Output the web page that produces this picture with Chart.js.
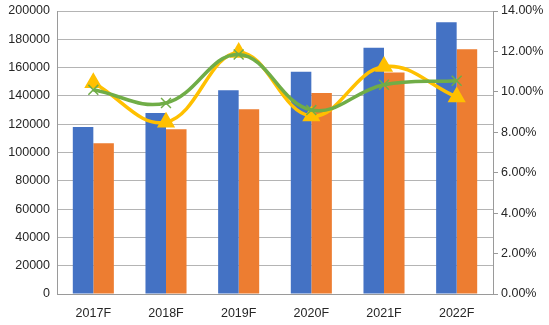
<!DOCTYPE html>
<html>
<head>
<meta charset="utf-8">
<script src="https://cdn.jsdelivr.net/npm/chart.js@4.4.1/dist/chart.umd.min.js"></script>
<style>
  html, body { margin: 0; padding: 0; background: #fff; }
  #wrap { width: 549px; height: 325px; }
</style>
</head>
<body>
<div id="wrap"><canvas id="chart" width="549" height="325"></canvas></div>
<script>
const years = ['2017F', '2018F', '2019F', '2020F', '2021F', '2022F'];
const blueBars = [118000, 128000, 144000, 157000, 174000, 192000];
const orangeBars = [106500, 116500, 130500, 142000, 156500, 173000];
const yellowRate = [10.45, 8.5, 11.95, 8.8, 11.25, 9.75];
const greenRate = [10.1, 9.45, 11.85, 9.1, 10.35, 10.55];
const leftMax = 200000;
const rightMax = 14;

const gridColor = '#b4b4b4';
const axisColor = '#9a9a9a';
const labelFont = { family: 'Liberation Sans', size: 12.5 };

// fixed axis sizes so the plot area lands in the same place every time
function fitSide(width) {
    return (scale) => {
        scale.width = width;
        scale.paddingTop = 0;
        scale.paddingBottom = 0;
    };
}

const ctx = document.getElementById('chart').getContext('2d');
new Chart(ctx, {
    data: {
        labels: years,
        datasets: [
            {
                type: 'line',
                data: yellowRate,
                yAxisID: 'y1',
                borderColor: '#ffc000',
                backgroundColor: '#ffc000',
                borderWidth: 3.5,
                tension: 0.4,
                pointStyle: 'triangle',
                pointRadius: 7,
                order: 1
            },
            {
                type: 'line',
                data: greenRate,
                yAxisID: 'y1',
                borderColor: '#70ad47',
                backgroundColor: '#70ad47',
                borderWidth: 3.5,
                tension: 0.4,
                pointStyle: 'crossRot',
                pointRadius: 7,
                pointBorderWidth: 1.5,
                order: 0
            },
            {
                type: 'bar',
                data: blueBars,
                yAxisID: 'y',
                backgroundColor: '#4472c4',
                categoryPercentage: 0.565,
                barPercentage: 1,
                order: 2
            },
            {
                type: 'bar',
                data: orangeBars,
                yAxisID: 'y',
                backgroundColor: '#ed7d31',
                categoryPercentage: 0.565,
                barPercentage: 1,
                order: 2
            }
        ]
    },
    options: {
        responsive: false,
        animation: false,
        layout: { padding: { top: 11, bottom: 0, left: 0, right: 0 } },
        plugins: {
            legend: { display: false },
            tooltip: { enabled: false }
        },
        scales: {
            x: {
                grid: { display: false, drawTicks: false },
                border: { color: axisColor, width: 1 },
                ticks: { color: '#262626', font: labelFont, padding: 12 },
                afterFit: (scale) => { scale.height = 31; }
            },
            y: {
                position: 'left',
                min: 0,
                max: leftMax,
                ticks: {
                    stepSize: 20000,
                    color: '#262626',
                    font: labelFont,
                    padding: 7,
                    callback: (v) => String(v)
                },
                grid: { color: gridColor, drawTicks: false },
                border: { color: axisColor, width: 1 },
                afterFit: fitSide(57)
            },
            y1: {
                position: 'right',
                min: 0,
                max: rightMax,
                ticks: {
                    stepSize: 2,
                    color: '#262626',
                    font: labelFont,
                    padding: 3,
                    callback: (v) => v.toFixed(2) + '%'
                },
                grid: { drawOnChartArea: false, color: axisColor, tickLength: 5 },
                border: { color: axisColor, width: 1 },
                afterFit: fitSide(56)
            }
        }
    }
});
</script>
</body>
</html>
